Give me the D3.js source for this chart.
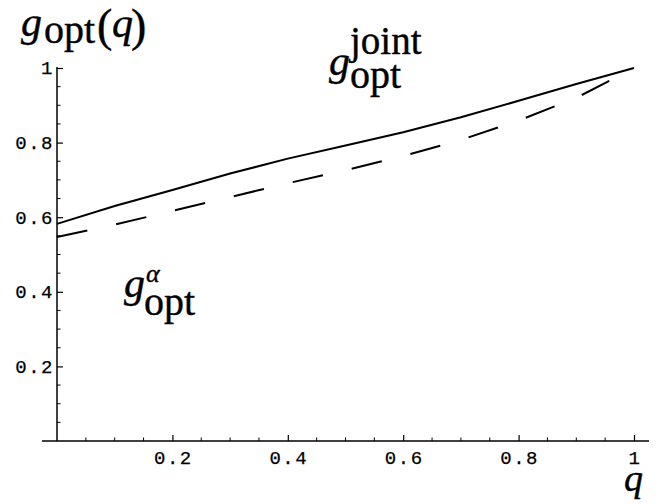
<!DOCTYPE html>
<html>
<head>
<meta charset="utf-8">
<script src="https://cdn.jsdelivr.net/npm/d3@7"></script>
<style>
  body { margin: 0; background: #fff; }
  svg { display: block; }
</style>
</head>
<body>
<div id="chart"></div>
<script>
// q values and the two curves
const qValues = [0, 0.1, 0.2, 0.3, 0.4, 0.5, 0.6, 0.7, 0.8, 0.9, 1.0];
const gJoint = [0.582, 0.630, 0.673, 0.717, 0.757, 0.792, 0.828, 0.868, 0.912, 0.957, 1.0];
const gAlpha = [0.547, 0.580, 0.617, 0.654, 0.691, 0.726, 0.764, 0.807, 0.859, 0.920, 1.0];

const majorTicks = [0.2, 0.4, 0.6, 0.8, 1];
const tickLabels = ["0.2", "0.4", "0.6", "0.8", "1"];

const width = 668;
const height = 504;

const svg = d3.select("#chart").append("svg")
    .attr("width", width)
    .attr("height", height);

const x = d3.scaleLinear().domain([0, 1]).range([57, 634]);
const y = d3.scaleLinear().domain([0, 1]).range([441, 68]);

const minorTicks = d3.range(1, 20).map(i => i * 0.05)
    .filter(v => Math.abs(v * 5 - Math.round(v * 5)) > 1e-6);

const monoFont = "'Liberation Mono', 'Courier New', 'DejaVu Sans Mono', monospace";
const serifFont = "'Liberation Serif', 'Times New Roman', 'DejaVu Serif', serif";

// x axis: line runs a little past both ends, ticks point inward
const xAxis = d3.axisTop(x)
    .tickValues(majorTicks)
    .tickSize(6)
    .tickFormat("");
const gx = svg.append("g")
    .attr("transform", `translate(0,${y(0)})`)
    .call(xAxis);
gx.select(".domain").remove();
gx.append("line")
    .attr("x1", 42).attr("x2", 649)
    .attr("stroke", "#000").attr("stroke-width", 1.5);
gx.selectAll(".minor")
    .data(minorTicks)
    .join("line")
    .attr("class", "minor")
    .attr("x1", d => x(d)).attr("x2", d => x(d))
    .attr("y1", 0).attr("y2", -3.5)
    .attr("stroke", "#000");
gx.selectAll(".tick line").attr("stroke-width", 1.2);

gx.selectAll(".lbl")
    .data(majorTicks)
    .join("text")
    .attr("class", "lbl")
    .attr("x", d => x(d) + 1)
    .attr("y", 23)
    .attr("text-anchor", "middle")
    .attr("fill", "#000")
    .attr("stroke", "#000")
    .attr("stroke-width", 0.25)
    .style("font-family", monoFont)
    .style("font-size", "19px")
    .style("letter-spacing", "1.5px")
    .text((d, i) => tickLabels[i]);

// y axis
const yAxis = d3.axisRight(y)
    .tickValues(majorTicks)
    .tickSize(6)
    .tickFormat("");
const gy = svg.append("g")
    .attr("transform", `translate(${x(0)},0)`)
    .call(yAxis);
gy.select(".domain").remove();
gy.append("line")
    .attr("y1", y(0)).attr("y2", y(1) - 1)
    .attr("stroke", "#000").attr("stroke-width", 1.5);
gy.selectAll(".minor")
    .data(minorTicks)
    .join("line")
    .attr("class", "minor")
    .attr("y1", d => y(d)).attr("y2", d => y(d))
    .attr("x1", 0).attr("x2", 3.5)
    .attr("stroke", "#000");
gy.selectAll(".tick line").attr("stroke-width", 1.2);

gy.selectAll(".lbl")
    .data(majorTicks)
    .join("text")
    .attr("class", "lbl")
    .attr("x", -3)
    .attr("y", d => y(d))
    .attr("dy", "0.34em")
    .attr("text-anchor", "end")
    .attr("fill", "#000")
    .attr("stroke", "#000")
    .attr("stroke-width", 0.25)
    .style("font-family", monoFont)
    .style("font-size", "19px")
    .style("letter-spacing", "1.5px")
    .text((d, i) => tickLabels[i]);

// curves
const line = d3.line()
    .x((d, i) => x(qValues[i]))
    .y(d => y(d));

svg.append("path")
    .datum(gJoint)
    .attr("d", line)
    .attr("fill", "none")
    .attr("stroke", "#000")
    .attr("stroke-width", 2);

svg.append("path")
    .datum(gAlpha)
    .attr("d", line)
    .attr("fill", "none")
    .attr("stroke", "#000")
    .attr("stroke-width", 2)
    .attr("stroke-dasharray", "31,29.5");

// math-style labels
function mathLabel(parts) {
    const t = svg.append("text")
        .attr("fill", "#000")
        .attr("stroke", "#000")
        .attr("stroke-width", 0.4)
        .style("font-family", serifFont);
    parts.forEach(p => {
        t.append("tspan")
            .attr("x", p.x)
            .attr("y", p.y)
            .style("font-size", p.size + "px")
            .style("font-style", p.italic ? "italic" : "normal")
            .text(p.text);
    });
    return t;
}

// axis title g_opt(q)
mathLabel([
    {text: "g", x: 21, y: 36, size: 42, italic: true},
    {text: "opt", x: 44, y: 43, size: 40},
    {text: "(", x: 97, y: 41, size: 46},
    {text: "q", x: 112, y: 37, size: 42, italic: true},
    {text: ")", x: 131, y: 41, size: 46}
]);

// x axis title
mathLabel([{text: "q", x: 624, y: 491, size: 38, italic: true}]);

// curve labels
mathLabel([
    {text: "g", x: 329, y: 75, size: 42, italic: true},
    {text: "joint", x: 350, y: 54, size: 39},
    {text: "opt", x: 350, y: 88, size: 40}
]);

mathLabel([
    {text: "g", x: 124, y: 297, size: 42, italic: true},
    {text: "α", x: 146, y: 282, size: 26, italic: true},
    {text: "opt", x: 144, y: 315, size: 40}
]);
</script>
</body>
</html>
